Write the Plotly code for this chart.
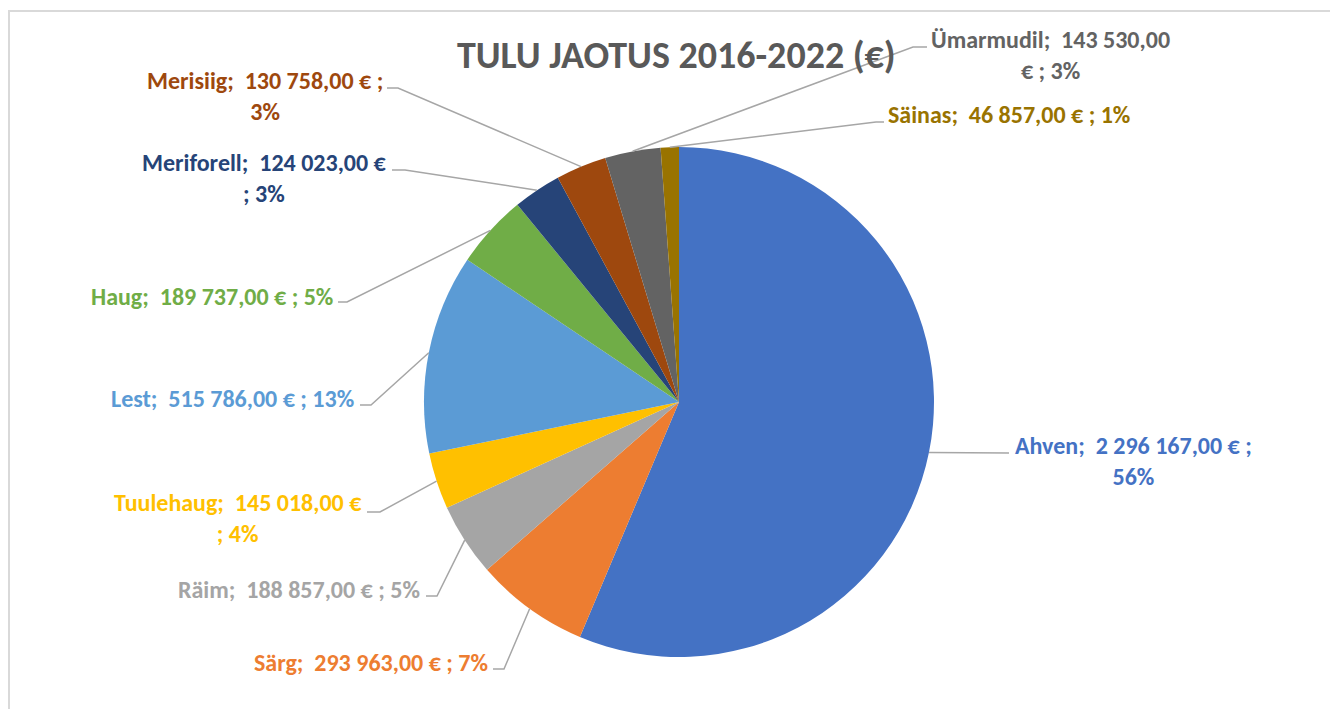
import math
import plotly.graph_objects as go

# page body has an 8px margin, so the figure is drawn inside it
OFF = 8
W, H = 1338 - 2 * OFF, 717 - 2 * OFF

names = ["Ahven", "Särg", "Räim", "Tuulehaug", "Lest", "Haug",
         "Meriforell", "Merisiig", "Ümarmudil", "Säinas"]
values = [2296167, 293963, 188857, 145018, 515786, 189737,
          124023, 130758, 143530, 46857]
percents = [56, 7, 5, 4, 13, 5, 3, 3, 3, 1]
colors = ["#4472C4", "#ED7D31", "#A5A5A5", "#FFC000", "#5B9BD5", "#70AD47",
          "#264478", "#9E480E", "#636363", "#997300"]

# pie geometry in page pixels
CX, CY, R = 679, 402, 255

# label placement: text x, text y, xanchor, line break mode, elbow points
label_pos = {
    "Ahven": (1013, 461, "left", "pct", [(1009, 453)]),
    "Särg": (490, 662, "right", None, [(493, 669), (504, 669)]),
    "Räim": (422, 589, "right", None, [(426, 596), (437, 596)]),
    "Tuulehaug": (364, 518, "right", "semi", [(367, 512), (380, 512)]),
    "Lest": (356, 398, "right", None, [(360, 405), (371, 405)]),
    "Haug": (335, 297, "right", None, [(338, 302), (347, 302)]),
    "Meriforell": (389, 178, "right", "semi", [(392, 170), (405, 170)]),
    "Merisiig": (385, 96, "right", "pct", [(387, 88), (398, 88)]),
    "Ümarmudil": (929, 55, "left", "euro", [(927, 47), (913, 47)]),
    "Säinas": (886, 115, "left", None, [(884, 122), (876, 122)]),
}

FONT = "Carlito, Lato, sans-serif"


def px(x):
    return (x - OFF) / W


def py(y):
    return 1 - (y - OFF) / H


def fmt(v):
    return f"{v:,.2f}".replace(",", " ").replace(".", ",")


fig = go.Figure()
fig.add_trace(go.Pie(
    labels=names,
    values=values,
    sort=False,
    direction="clockwise",
    rotation=0,
    marker=dict(colors=colors, line=dict(color="white", width=0)),
    textinfo="none",
    hoverinfo="label+value+percent",
    showlegend=False,
    domain=dict(x=[px(CX - R), px(CX + R)], y=[py(CY + R), py(CY - R)]),
))

total = sum(values)
cum = 0
for name, val, pct, col in zip(names, values, percents, colors):
    mid = (cum + val / 2) / total * 2 * math.pi
    cum += val
    ex = CX + R * math.sin(mid)
    ey = CY - R * math.cos(mid)

    tx, ty, anchor, brk, pts = label_pos[name]
    v = fmt(val)
    if brk == "pct":
        text = f"{name};  {v} € ;<br>{pct}%"
    elif brk == "semi":
        text = f"{name};  {v} €<br>; {pct}%"
    elif brk == "euro":
        text = f"{name};  {v}<br>€ ; {pct}%"
    else:
        text = f"{name};  {v} € ; {pct}%"

    fig.add_annotation(
        x=px(tx), y=py(ty), xref="paper", yref="paper",
        text=f"<b>{text}</b>", showarrow=False,
        xanchor=anchor, yanchor="middle", align="center",
        font=dict(family=FONT, size=24, color=col),
    )

    path_pts = pts + [(ex, ey)]
    path = "M " + " L ".join(f"{px(x)} {py(y)}" for x, y in path_pts)
    fig.add_shape(
        type="path", path=path, xref="paper", yref="paper",
        line=dict(color="#A6A6A6", width=1.5),
    )

# chart area border (right and bottom edges fall outside the picture)
fig.add_shape(
    type="rect", xref="paper", yref="paper",
    x0=px(9), x1=px(1360), y0=py(740), y1=py(11),
    line=dict(color="#D9D9D9", width=2), layer="below",
)

fig.add_annotation(
    x=px(677), y=py(55), xref="paper", yref="paper",
    text="<b>TULU JAOTUS 2016-2022 (€)</b>", showarrow=False,
    xanchor="center", yanchor="middle",
    font=dict(family=FONT, size=38, color="#595959"),
)

fig.update_layout(
    width=W, height=H,
    margin=dict(l=0, r=0, t=0, b=0),
    paper_bgcolor="white",
    plot_bgcolor="white",
)

fig.write_html("out.html")
